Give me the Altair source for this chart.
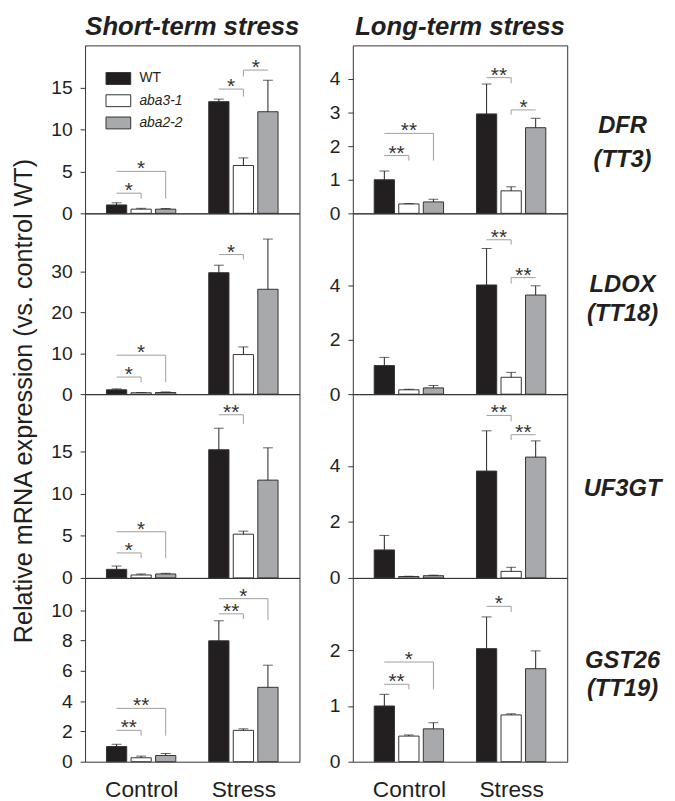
import altair as alt
import pandas as pd

# ---------------- data ----------------
genotypes = ["WT", "aba3-1", "aba2-2"]
conditions = ["Control", "Stress"]
terms = ["Short-term stress", "Long-term stress"]
genes = ["DFR", "LDOX", "UF3GT", "GST26"]
gene_aliases = ["TT3", "TT18", "", "TT19"]
y_title = "Relative mRNA expression (vs. control WT)"

# order: Control WT, aba3-1, aba2-2, Stress WT, aba3-1, aba2-2
short_dfr_mean = [1.0, 0.5, 0.5, 13.3, 5.7, 12.1]
short_dfr_se = [0.26, 0.1, 0.08, 0.3, 0.9, 3.75]
long_dfr_mean = [1.0, 0.28, 0.34, 2.96, 0.67, 2.55]
long_dfr_se = [0.26, 0.01, 0.08, 0.89, 0.12, 0.28]
short_ldox_mean = [1.07, 0.34, 0.4, 29.76, 9.7, 25.7]
short_ldox_se = [0.23, 0.06, 0.15, 1.84, 1.87, 12.3]
long_ldox_mean = [1.05, 0.16, 0.23, 4.01, 0.62, 3.64]
long_ldox_se = [0.3, 0.02, 0.09, 1.34, 0.18, 0.34]
short_uf3gt_mean = [1.02, 0.35, 0.47, 15.24, 5.2, 11.63]
short_uf3gt_se = [0.39, 0.12, 0.08, 2.56, 0.36, 3.84]
long_uf3gt_mean = [1.0, 0.05, 0.08, 3.82, 0.235, 4.32]
long_uf3gt_se = [0.52, 0.01, 0.02, 1.44, 0.145, 0.58]
short_gst26_mean = [1.0, 0.26, 0.41, 7.98, 2.07, 4.91]
short_gst26_se = [0.15, 0.11, 0.13, 1.32, 0.1, 1.46]
long_gst26_mean = [1.0, 0.46, 0.59, 2.03, 0.84, 1.67]
long_gst26_se = [0.21, 0.02, 0.11, 0.57, 0.02, 0.32]

# significance brackets: condition, genotype A, genotype B, bracket level, drop end level, label
short_dfr_brackets = [
    ["Control", "WT", "aba3-1", 2.4, 1.75, "*"],
    ["Control", "WT", "aba2-2", 5.0, 1.75, "*"],
    ["Stress", "WT", "aba3-1", 14.8, 13.9, "*"],
    ["Stress", "aba3-1", "aba2-2", 17.06, 16.3, "*"],
]
long_dfr_brackets = [
    ["Control", "WT", "aba3-1", 1.72, 1.57, "**"],
    ["Control", "WT", "aba2-2", 2.38, 1.57, "**"],
    ["Stress", "WT", "aba3-1", 4.04, 3.87, "**"],
    ["Stress", "aba3-1", "aba2-2", 3.08, 2.94, "*"],
]
short_ldox_brackets = [
    ["Control", "WT", "aba3-1", 4.2, 2.9, "*"],
    ["Control", "WT", "aba2-2", 9.55, 2.9, "*"],
    ["Stress", "WT", "aba3-1", 34.2, 33.0, "*"],
]
long_ldox_brackets = [
    ["Stress", "WT", "aba3-1", 5.67, 5.49, "**"],
    ["Stress", "aba3-1", "aba2-2", 4.28, 4.06, "**"],
]
short_uf3gt_brackets = [
    ["Control", "WT", "aba3-1", 2.97, 2.35, "*"],
    ["Control", "WT", "aba2-2", 5.49, 2.35, "*"],
    ["Stress", "WT", "aba3-1", 19.4, 18.3, "**"],
]
long_uf3gt_brackets = [
    ["Stress", "WT", "aba3-1", 5.81, 5.6, "**"],
    ["Stress", "aba3-1", "aba2-2", 5.12, 4.93, "**"],
]
short_gst26_brackets = [
    ["Control", "WT", "aba3-1", 2.07, 1.72, "**"],
    ["Control", "WT", "aba2-2", 3.52, 1.72, "**"],
    ["Stress", "WT", "aba3-1", 9.76, 9.41, "**"],
    ["Stress", "WT", "aba2-2", 10.76, 9.35, "*"],
]
long_gst26_brackets = [
    ["Control", "WT", "aba3-1", 1.39, 1.3, "**"],
    ["Control", "WT", "aba2-2", 1.79, 1.3, "*"],
    ["Stress", "WT", "aba3-1", 2.79, 2.69, "*"],
]

short_ymax = [20, 44.3, 21.85, 12.13]
long_ymax = [5, 6.64, 6.57, 3.3]
short_ticks = [[0, 5, 10, 15], [0, 10, 20, 30], [0, 5, 10, 15], [0, 2, 4, 6, 8, 10]]
long_ticks = [[0, 1, 2, 3, 4], [0, 2, 4], [0, 2, 4], [0, 1, 2]]

MEANS = [[short_dfr_mean, short_ldox_mean, short_uf3gt_mean, short_gst26_mean],
         [long_dfr_mean, long_ldox_mean, long_uf3gt_mean, long_gst26_mean]]
SES = [[short_dfr_se, short_ldox_se, short_uf3gt_se, short_gst26_se],
       [long_dfr_se, long_ldox_se, long_uf3gt_se, long_gst26_se]]
BRACKETS = [[short_dfr_brackets, short_ldox_brackets, short_uf3gt_brackets, short_gst26_brackets],
            [long_dfr_brackets, long_ldox_brackets, long_uf3gt_brackets, long_gst26_brackets]]
YMAX = [short_ymax, long_ymax]
TICKS = [short_ticks, long_ticks]

# ---------------- style / layout ----------------
FONT = "Liberation Sans"
INK = "#231f20"
COLORS = ["#231f20", "#ffffff", "#a7a9ac"]
PANEL_W = 217
ROW_H = [170, 183, 186, 186]
OFF = 0.48
LABEL_Y = [[81.7, 115.7], [72.5, 101.7], [96], [84.3, 112.7]]
RECT_PATH = "M-1,-0.48L1,-0.48L1,0.48L-1,0.48Z"


def pos_expr(cfield, gfield):
    return (f"indexof({conditions!r}, datum.{cfield})*2 + "
            f"(indexof({genotypes!r}, datum.{gfield})-1)*{OFF}")


def make_panel(t, r):
    h = ROW_H[r]
    df = pd.DataFrame({
        "condition": [c for c in conditions for _ in genotypes],
        "genotype": genotypes * len(conditions),
        "mean": MEANS[t][r],
        "se": SES[t][r],
    })
    xs = alt.Scale(domain=[-1, 3], nice=False, zero=False)
    ys = alt.Scale(domain=[0, YMAX[t][r]], nice=False, zero=False)
    if r == 3:
        xaxis = alt.Axis(values=[2 * i for i in range(len(conditions))],
                         labelExpr=f"{conditions!r}[datum.value/2]",
                         ticks=False, domain=False, grid=False,
                         labelFontSize=23, labelFont=FONT, labelColor=INK,
                         labelPadding=17, labelFlush=False, title=None)
    else:
        xaxis = None
    yaxis = alt.Axis(values=TICKS[t][r], grid=False, domain=False, tickSize=5,
                     tickColor="#333", tickWidth=1, labelFontSize=19.5, labelFont=FONT,
                     labelColor=INK, labelPadding=8, title=None)
    cscale = alt.Scale(domain=genotypes, range=COLORS)

    def X(field):
        return alt.X(field, scale=xs, axis=xaxis, title=None)

    def Y(field):
        return alt.Y(field, scale=ys, axis=yaxis, title=None)

    base = alt.Chart(df).transform_calculate(
        pos=pos_expr("condition", "genotype"), top="datum.mean + datum.se")
    bars = base.mark_bar(size=20.5, stroke="#333", strokeWidth=1).encode(
        x=X("pos:Q"), y=Y("mean:Q"),
        color=alt.Color("genotype:N", scale=cscale, legend=None),
    )
    err = base.mark_rule(color=INK, strokeWidth=1).encode(
        x=X("pos:Q"), y=Y("mean:Q"), y2="top:Q")
    cap = base.mark_tick(orient="horizontal", size=10, thickness=1, color=INK).encode(
        x=X("pos:Q"), y=Y("top:Q"))
    brk = BRACKETS[t][r]
    bdf = pd.DataFrame({
        "condition": [b[0] for b in brk],
        "ga": [b[1] for b in brk],
        "gb": [b[2] for b in brk],
        "yl": [b[3] for b in brk],
        "ye": [b[4] for b in brk],
        "label": [b[5] for b in brk],
        "gd": ["aba3-1" if "aba3-1" in (b[1], b[2]) else b[2] for b in brk],
    })
    bbase = alt.Chart(bdf).transform_calculate(
        x1=pos_expr("condition", "ga"),
        x2=pos_expr("condition", "gb"),
        xd=pos_expr("condition", "gd"),
    ).transform_calculate(xm="(datum.x1 + datum.x2)/2")
    hline = bbase.mark_rule(color="#9d9d9d", strokeWidth=1).encode(
        x=X("x1:Q"), x2="x2:Q", y=Y("yl:Q"))
    vline = bbase.mark_rule(color="#9d9d9d", strokeWidth=1).encode(
        x=X("xd:Q"), y=Y("yl:Q"), y2="ye:Q")
    stars = bbase.mark_text(font=FONT, fontSize=21, baseline="alphabetic", dy=4,
                            color="#333").encode(
        x=X("xm:Q"), y=Y("yl:Q"), text="label:N")

    layers = [bars, err, cap, hline, vline, stars]

    # gene labels on the right of long-term panels
    if t == 1:
        lines = [genes[r]] + ([f"({gene_aliases[r]})"] if gene_aliases[r] else [])
        for txt, yy in zip(lines, LABEL_Y[r]):
            layers.append(
                alt.Chart(pd.DataFrame({"t": [txt]})).mark_text(
                    font=FONT, fontSize=24, fontWeight="bold", fontStyle="italic",
                    color=INK, align="center", baseline="middle").encode(
                    text="t:N", x=alt.value(273), y=alt.value(yy)))
    # shared y-axis title
    if t == 0 and r == 2:
        layers.append(
            alt.Chart(pd.DataFrame({"t": [y_title]})).mark_text(
                font=FONT, fontSize=25.5, angle=270, color=INK,
                align="center", baseline="middle").encode(
                text="t:N", x=alt.value(-62), y=alt.value(7)))

    panel = alt.layer(*layers)

    if t == 0 and r == 0:
        ldf = pd.DataFrame({"genotype": genotypes})
        ly = alt.Y("genotype:N", scale=alt.Scale(type="point", domain=genotypes,
                                                  range=[33.5, 78.5], padding=0), axis=None)
        sym = alt.Chart(ldf).mark_point(shape=RECT_PATH, size=625, filled=True, opacity=1,
                                        stroke="#333", strokeWidth=1).encode(
            x=alt.value(33.7), y=ly,
            fill=alt.Fill("genotype:N", scale=cscale, legend=None))
        lt1 = alt.Chart(ldf).transform_filter("datum.genotype == 'WT'").mark_text(
            font=FONT, fontSize=14, align="left", baseline="middle", color=INK).encode(
            x=alt.value(55), y=ly, text="genotype:N")
        lt2 = alt.Chart(ldf).transform_filter("datum.genotype != 'WT'").mark_text(
            font=FONT, fontSize=14, fontStyle="italic", align="left", baseline="middle",
            color=INK).encode(x=alt.value(55), y=ly, text="genotype:N")
        panel = alt.layer(panel, alt.layer(sym, lt1, lt2)).resolve_scale(y="independent")

    props = dict(width=PANEL_W, height=h)
    if r == 0:
        props["title"] = alt.TitleParams(terms[t], font=FONT, fontSize=26, fontWeight="bold",
                                         fontStyle="italic", color=INK, offset=6,
                                         anchor="middle")
    return panel.properties(**props)


panels = [make_panel(t, r) for r in range(4) for t in range(2)]

chart = alt.ConcatChart(
    concat=panels, columns=2, spacing={"row": 0, "column": 54},
    bounds="flush", align="each",
).properties(
    padding={"left": 3, "top": 0, "right": 5, "bottom": 0},
    background="white",
).configure_view(stroke="#333", strokeWidth=1)

chart.save("out.html", embed_options={"renderer": "svg", "actions": False})
